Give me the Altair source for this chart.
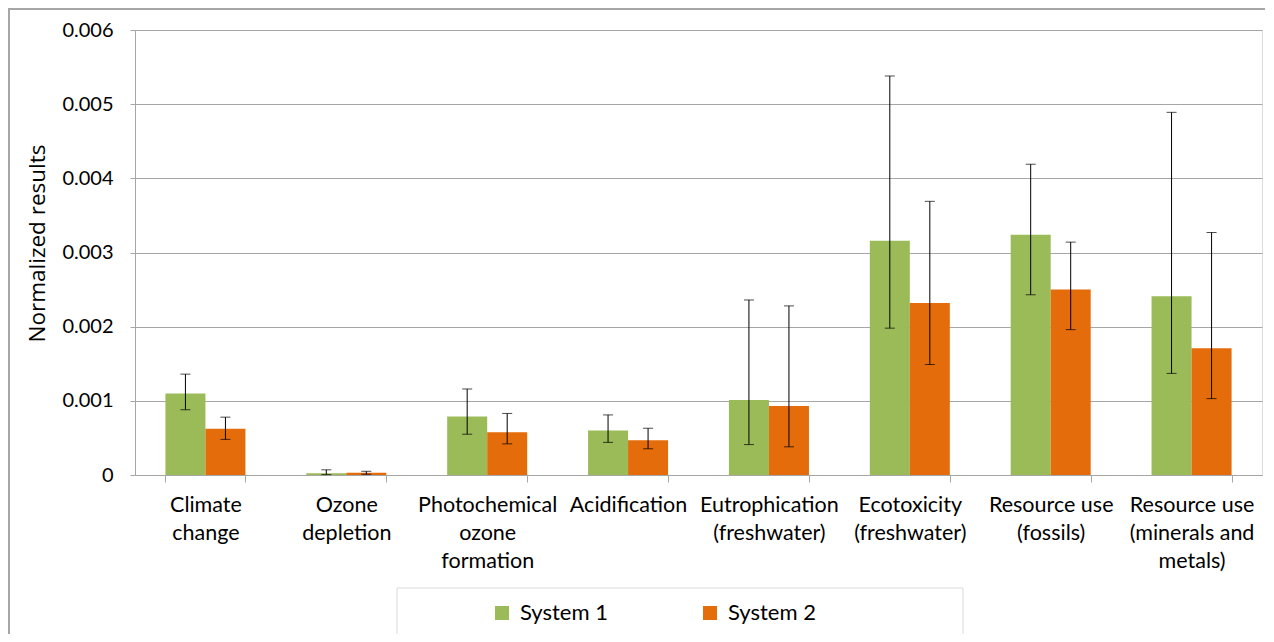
import json
import altair as alt
import pandas as pd

categories = [
    "Climate change", "Ozone depletion", "Photochemical ozone formation",
    "Acidification", "Eutrophication (freshwater)", "Ecotoxicity (freshwater)",
    "Resource use (fossils)", "Resource use (minerals and metals)",
]
label_lines = [
    ["Climate", "change"], ["Ozone", "depletion"], ["Photochemical", "ozone", "formation"],
    ["Acidification"], ["Eutrophication", "(freshwater)"], ["Ecotoxicity", "(freshwater)"],
    ["Resource use", "(fossils)"], ["Resource use", "(minerals and", "metals)"],
]
series = ["System 1", "System 2"]
s1 = [0.00110, 0.000025, 0.00079, 0.00060, 0.00101, 0.00316, 0.00324, 0.00241]
s1_lo = [0.00088, 0.000005, 0.00055, 0.00044, 0.00041, 0.00198, 0.00243, 0.00137]
s1_hi = [0.00136, 0.00007, 0.00116, 0.00081, 0.00236, 0.00538, 0.00419, 0.00489]
s2 = [0.000625, 0.00003, 0.000575, 0.00047, 0.00093, 0.00232, 0.00250, 0.00171]
s2_lo = [0.00048, 0.00001, 0.00042, 0.000355, 0.00038, 0.00149, 0.00196, 0.00103]
s2_hi = [0.00078, 0.00005, 0.00083, 0.00063, 0.00228, 0.00369, 0.00314, 0.00327]
colors = ["#9BBB59", "#E46C0A"]
y_ticks = [0, 0.001, 0.002, 0.003, 0.004, 0.005, 0.006]

rows = []
for i, c in enumerate(categories):
    rows.append({"cat": c, "sys": series[0], "v": s1[i], "lo": s1_lo[i], "hi": s1_hi[i]})
    rows.append({"cat": c, "sys": series[1], "v": s2[i], "lo": s2_lo[i], "hi": s2_hi[i]})
df = pd.DataFrame(rows)

FONT = "Lato"
label_expr = f"{json.dumps(label_lines)}[indexof({json.dumps(categories)}, datum.label)]"

x = alt.X("cat:N", sort=categories, title=None,
          scale=alt.Scale(paddingInner=0.432, paddingOuter=0.216),
          axis=alt.Axis(labelExpr=label_expr, labelAngle=0, labelFontSize=21.5,
                        labelLineHeight=28, labelPadding=12, tickBand="extent",
                        tickSize=7, tickColor="#a6a6a6", domainColor="#a6a6a6",
                        labelColor="#000000", labelFont=FONT, grid=False))
xoff = alt.XOffset("sys:N", sort=series, scale=alt.Scale(paddingInner=0, paddingOuter=0))

base = alt.Chart(df)

bars = base.mark_bar().encode(
    x=x, xOffset=xoff,
    y=alt.Y("v:Q", title="Normalized results",
            scale=alt.Scale(domain=[0, 0.006], nice=False),
            axis=alt.Axis(values=y_ticks, labelExpr="datum.value == 0 ? '0' : format(datum.value, '.3f')",
                          labelFontSize=20, labelFont=FONT, labelColor="#000000", labelPadding=17,
                          tickSize=5, tickColor="#a6a6a6", domainColor="#a6a6a6",
                          gridColor="#a6a6a6", gridWidth=1,
                          titleFontSize=22.5, titleFont="Open Sans", titleFontWeight="normal",
                          titleColor="#000000", titleX=-91, titleY=213, titleAngle=-90,
                          titleAlign="center", titleBaseline="alphabetic")),
    color=alt.Color("sys:N", sort=series, title=None,
                    scale=alt.Scale(domain=series, range=colors),
                    legend=alt.Legend(orient="none", legendX=356, legendY=572, direction="horizontal",
                                      symbolType="square", symbolSize=196, symbolStrokeWidth=0,
                                      labelFontSize=22, labelFont=FONT, labelColor="#000000",
                                      labelOffset=7, columnPadding=91, padding=0)),
)

rules = base.mark_rule(color="#000000", strokeWidth=1).encode(
    x=alt.X("cat:N", sort=categories), xOffset=xoff, y="lo:Q", y2="hi:Q")
caps_hi = base.mark_tick(color="#000000", thickness=1, size=10, orient="horizontal").encode(
    x=alt.X("cat:N", sort=categories), xOffset=xoff, y="hi:Q")
caps_lo = base.mark_tick(color="#000000", thickness=1, size=10, orient="horizontal").encode(
    x=alt.X("cat:N", sort=categories), xOffset=xoff, y="lo:Q")

legend_box = alt.Chart(pd.DataFrame({"a": [0]})).mark_rect(
    fill="white", stroke="#d9d9d9", strokeWidth=1).encode(
    x=alt.value(262), x2=alt.value(828), y=alt.value(558), y2=alt.value(605))
left_border = alt.Chart(pd.DataFrame({"a": [0]})).mark_rule(color="#a6a6a6", strokeWidth=2).encode(
    x=alt.value(-126), y=alt.value(-22), y2=alt.value(604))
top_border = alt.Chart(pd.DataFrame({"a": [0]})).mark_rule(color="#a6a6a6", strokeWidth=2).encode(
    x=alt.value(-126), x2=alt.value(1130), y=alt.value(-21))

chart = alt.layer(legend_box, left_border, top_border, bars, rules, caps_hi, caps_lo).properties(
    width=1127, height=445,
    autosize=alt.AutoSizeParams(type="none"),
    padding={"left": 127, "top": 22, "right": 4, "bottom": 159},
).configure_view(stroke=None).configure(font=FONT)

chart.save("out.html", embed_options={"renderer": "svg", "actions": False})
